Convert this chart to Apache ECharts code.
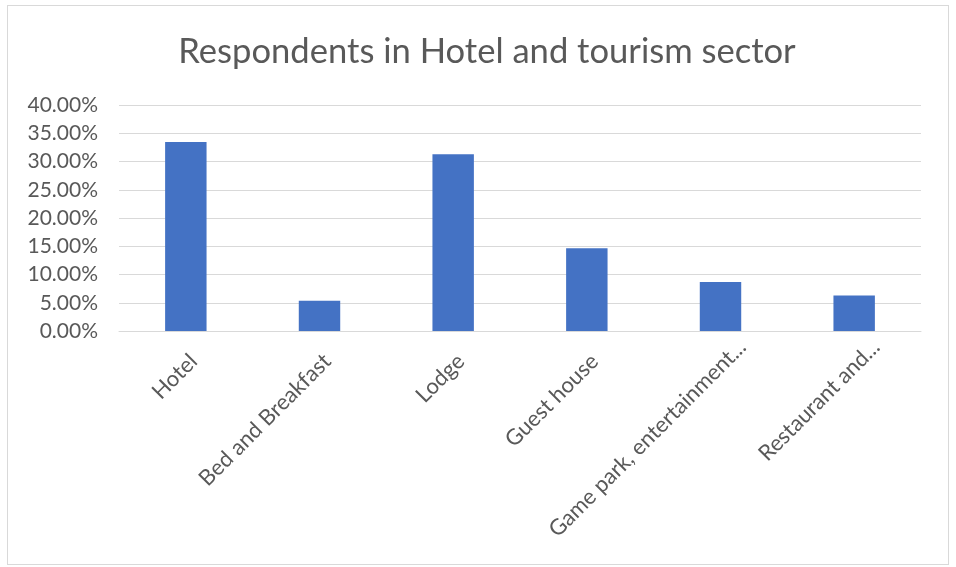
<!DOCTYPE html>
<html>
<head>
<meta charset="utf-8">
<script src="https://cdn.jsdelivr.net/npm/echarts@6/dist/echarts.min.js"></script>
<style>
  html, body { margin: 0; padding: 0; background: #ffffff; }
  #frame { position: absolute; left: 7px; top: 5px; width: 942px; height: 560px;
           border: 1px solid #d9d9d9; box-sizing: border-box; }
  #chart { position: absolute; left: 0; top: 0; width: 956px; height: 567px; }
</style>
</head>
<body>
<div id="frame"></div>
<div id="chart"></div>
<script>
// Share of respondents by business type
const categories = ['Hotel', 'Bed and Breakfast', 'Lodge', 'Guest house', 'Game park, entertainment...', 'Restaurant and...'];
const shares = [33.45, 5.35, 31.27, 14.66, 8.66, 6.30];
const titleText = 'Respondents in Hotel and tourism sector';

const chart = echarts.init(document.getElementById('chart'), null, { renderer: 'canvas' });
const font = 'Lato, "Liberation Sans", sans-serif';
const labelStyle = { fontFamily: font, fontSize: 22, color: '#595959' };

chart.setOption({
  animation: false,
  title: {
    text: titleText,
    left: 482,
    textAlign: 'center',
    top: 29,
    textStyle: { fontFamily: font, fontSize: 34.6, fontWeight: 'normal', color: '#595959' }
  },
  grid: { left: 119, right: 35, top: 105, bottom: 236, containLabel: false },
  xAxis: {
    type: 'category',
    data: categories,
    axisLine: { lineStyle: { color: '#d9d9d9', width: 1 } },
    axisTick: { show: false },
    axisLabel: {
      rotate: 45,
      interval: 0,
      margin: 19,
      verticalAlign: 'top',
      // shortened names sit a little further along the slant
      formatter: v => (v.endsWith('...') ? '{cut|' : '{n|') + v + '}',
      rich: {
        n: labelStyle,
        cut: Object.assign({ padding: [0, -20, 0, 0] }, labelStyle)
      }
    }
  },
  yAxis: {
    type: 'value',
    min: 0,
    max: 40,
    interval: 5,
    axisLine: { show: false },
    axisTick: { show: false },
    splitLine: { lineStyle: { color: '#d9d9d9', width: 1 } },
    axisLabel: {
      margin: 21,
      fontFamily: font,
      fontSize: 21,
      color: '#595959',
      formatter: v => v.toFixed(2) + '%'
    }
  },
  series: [{
    type: 'bar',
    data: shares,
    barWidth: '31%',
    itemStyle: { color: '#4472c4' }
  }]
});
</script>
</body>
</html>
